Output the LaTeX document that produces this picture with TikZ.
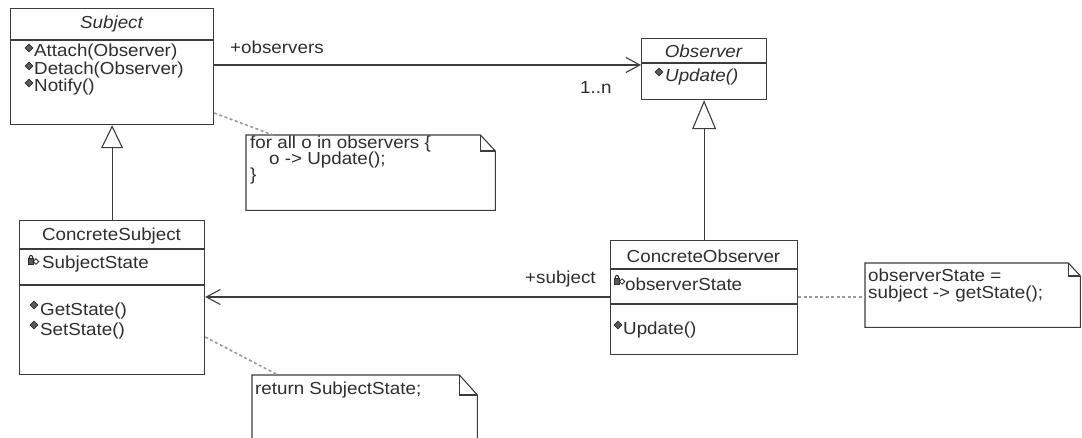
\documentclass[tikz,border=0pt]{standalone}
\usepackage{fontspec}
\setmainfont{Liberation Sans}[FakeStretch=1.08]
\usetikzlibrary{arrows.meta}
\definecolor{ink}{HTML}{2E2E2E}
\definecolor{edge}{HTML}{3C3C3C}
\definecolor{dashgray}{HTML}{9A9A9A}
\definecolor{icongray}{HTML}{5A5A5A}
\tikzset{
  umlbox/.style={draw=edge, line width=1.2pt, anchor=north west, inner sep=0pt, fill=white},
  notebox/.style={anchor=north west, inner sep=0pt},
  notepath/.style={draw=edge, line width=1.1pt, line join=miter},
  txt/.style={anchor=west, inner sep=0pt, text=ink, font=\fontsize{17.4}{20}\selectfont},
  ctxt/.style={inner sep=0pt, text=ink, font=\fontsize{17.4}{20}\selectfont},
  sepline/.style={draw=edge, line width=1.1pt},
  assoc/.style={draw=edge, line width=1.1pt, -{Straight Barb[length=14pt,width=15pt,line width=1.1pt]}},
  inherit/.style={draw=edge, line width=1.1pt},
  anchorline/.style={draw=dashgray, line width=1.6pt, dash pattern=on 3pt off 2.5pt},
  opicon/.pic={\filldraw[fill=icongray, draw=ink, line width=0.7pt, rotate=45] (-2.8,-2.8) rectangle (2.8,2.8);},
  lockicon/.pic={
    \draw[ink, line width=1.1pt] (-3.8,0) arc[start angle=180, end angle=360, x radius=1.8pt, y radius=-2.6pt];
    \filldraw[fill=icongray, draw=ink, line width=0.7pt] (-5,0) rectangle (0.8,6);
    \filldraw[fill=white, draw=ink, line width=0.8pt, rotate around={45:(3,3.5)}] (1.1,1.6) rectangle (4.9,5.4);
  }
}
\begin{document}
\begin{tikzpicture}[x=1pt, y=-1pt]
\useasboundingbox (0,0) rectangle (1082,438);

% ---------- Subject ----------
\node[umlbox, minimum width=203pt, minimum height=116pt] (subject) at (10,8) {};
\coordinate (s40) at (0,40);
\draw[sepline] (subject.west |- s40) -- (subject.east |- s40);
\node[ctxt, font=\fontsize{17.4}{20}\selectfont\itshape] (subjectname) at (111.5,24) {Subject};
\pic at (29,48) {opicon};
\node[txt] (attach) at (34,52) {Attach(Observer)};
\pic at (29,66) {opicon};
\node[txt] (detach) at (34,70) {Detach(Observer)};
\pic at (29,83) {opicon};
\node[txt] (notify) at (34,87) {Notify()};

% ---------- Observer ----------
\node[umlbox, minimum width=125pt, minimum height=61pt] (observer) at (641,38) {};
\coordinate (o63) at (0,63);
\draw[sepline] (observer.west |- o63) -- (observer.east |- o63);
\node[ctxt, font=\fontsize{17.4}{20}\selectfont\itshape] (observername) at (703.5,51) {Observer};
\pic at (659,72) {opicon};
\node[txt, font=\fontsize{17.4}{20}\selectfont\itshape] (oupdate) at (665,77) {Update()};

% ---------- ConcreteSubject ----------
\node[umlbox, minimum width=185pt, minimum height=154pt] (csub) at (19,220) {};
\coordinate (c249) at (0,249);
\coordinate (c285) at (0,285);
\draw[sepline] (csub.west |- c249) -- (csub.east |- c249);
\draw[sepline] (csub.west |- c285) -- (csub.east |- c285);
\node[ctxt] (csubname) at (111.5,236) {ConcreteSubject};
\pic at (33,258) {lockicon};
\node[txt] (substate) at (42,264) {SubjectState};
\pic at (34,305) {opicon};
\node[txt] (getstate) at (40,311) {GetState()};
\pic at (34,325) {opicon};
\node[txt] (setstate) at (40,331) {SetState()};

% ---------- ConcreteObserver ----------
\node[umlbox, minimum width=187pt, minimum height=114pt] (cobs) at (610,240) {};
\coordinate (c269) at (0,269);
\coordinate (c304) at (0,304);
\draw[sepline] (cobs.west |- c269) -- (cobs.east |- c269);
\draw[sepline] (cobs.west |- c304) -- (cobs.east |- c304);
\node[ctxt] (cobsname) at (703.5,256) {ConcreteObserver};
\pic at (619,278) {lockicon};
\node[txt] (obsstate) at (625,284) {observerState};
\pic at (618,325) {opicon};
\node[txt] (cupdate) at (623,330) {Update()};

% ---------- Notes ----------
% for all o in observers
\node[notebox, minimum width=249pt, minimum height=75pt] (note1) at (246,135) {};
\draw[notepath] (note1.north west) -- ([xshift=-15pt]note1.north east)
  -- ([yshift=-16pt]note1.north east) -- (note1.south east) -- (note1.south west) -- cycle;
\draw[notepath] ([xshift=-15pt]note1.north east) -- ([xshift=-15pt,yshift=-16pt]note1.north east)
  -- ([yshift=-16pt]note1.north east);
\node[txt] (n1a) at (250,144) {for all o in observers \{};
\node[txt] (n1b) at (269,160) {o -> Update();};
\node[txt] (n1c) at (250,176) {\}};

% observerState = subject -> getState();
\node[notebox, minimum width=215pt, minimum height=64pt] (note2) at (865,263) {};
\draw[notepath] (note2.north west) -- ([xshift=-12pt]note2.north east)
  -- ([yshift=-13pt]note2.north east) -- (note2.south east) -- (note2.south west) -- cycle;
\draw[notepath] ([xshift=-12pt]note2.north east) -- ([xshift=-12pt,yshift=-13pt]note2.north east)
  -- ([yshift=-13pt]note2.north east);
\node[txt] (n2a) at (868,275) {observerState =};
\node[txt] (n2b) at (868,294) {subject -> getState();};

% return SubjectState;
\node[notebox, minimum width=225pt, minimum height=63pt] (note3) at (252,375) {};
\draw[notepath] (note3.south west) -- (note3.north west) -- ([xshift=-18pt]note3.north east)
  -- ([yshift=-20pt]note3.north east) -- (note3.south east);
\draw[notepath] ([xshift=-18pt]note3.north east) -- ([xshift=-18pt,yshift=-20pt]note3.north east)
  -- ([yshift=-20pt]note3.north east);
\node[txt] (n3a) at (255,390) {return SubjectState;};

% ---------- Associations ----------
\coordinate (a65) at (0,65);
\draw[assoc] (subject.east |- a65) -- (observer.west |- a65);
\node[txt] (lobservers) at (230,47) {+observers};
\node[txt] (lmult) at (580,88) {1..n};

\coordinate (a297) at (0,297);
\draw[assoc] (cobs.west |- a297) -- (csub.east |- a297);
\node[txt] (lsubject) at (525,279) {+subject};

% ---------- Generalisations ----------
\draw[inherit, -{Triangle[open, length=23pt, width=22pt, line width=1.1pt]}] (csub.north) -- (subject.south);
\draw[inherit, -{Triangle[open, length=29pt, width=24pt, line width=1.1pt]}] (cobs.north) -- (observer.south);

% ---------- Note anchors ----------
\coordinate (s113) at (0,113);
\coordinate (n1t) at (273,0);
\draw[anchorline] (subject.east |- s113) -- (note1.north west -| n1t);
\coordinate (c337) at (0,337);
\coordinate (n3t) at (278,0);
\draw[anchorline] (csub.east |- c337) -- (note3.north west -| n3t);
\draw[anchorline] (cobs.east |- a297) -- (note2.west |- a297);
\end{tikzpicture}
\end{document}
